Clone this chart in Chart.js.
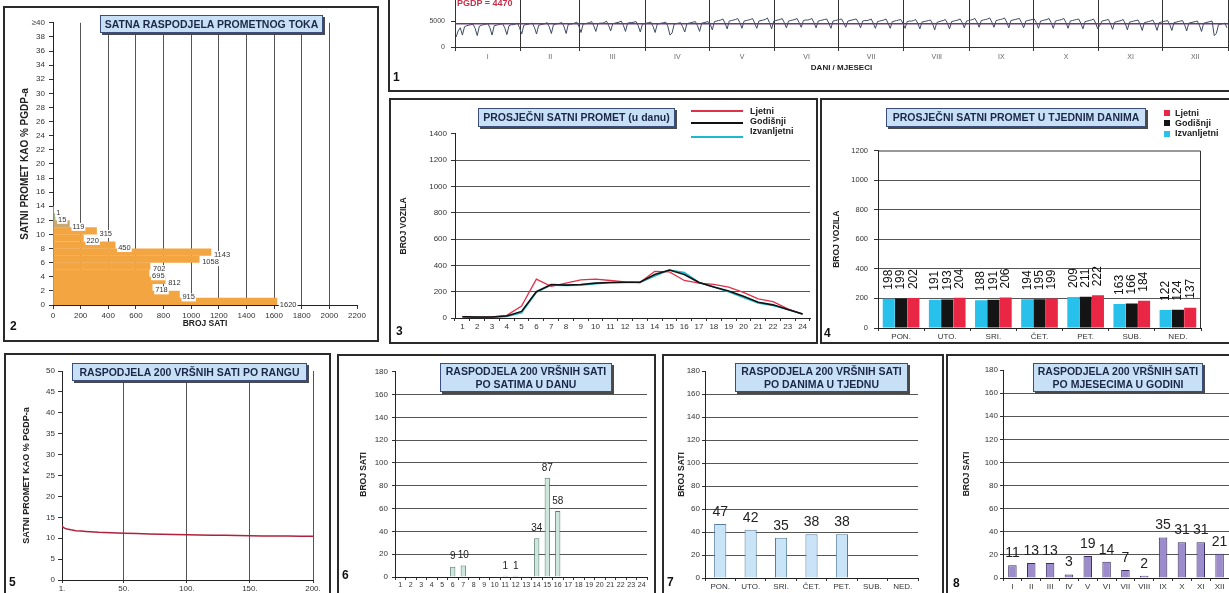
<!DOCTYPE html>
<html lang="hr">
<head>
<meta charset="UTF-8">
<title>Brojanje prometa</title>
<script src="https://cdn.jsdelivr.net/npm/chart.js"></script>
<style>
  body { margin:0; width:1229px; height:593px; overflow:hidden; background:#fff; position:relative;
         font-family:"Liberation Sans", Arial, sans-serif; }
  .box { position:absolute; border:2px solid #2a2a2a; box-sizing:border-box; background:#fff; }
  canvas { position:absolute; }
  .naslov { position:absolute; background:#c8e0f6; border:1.5px solid #3b4d7a; box-shadow:2px 2px 0 #4a4a4a;
            font-weight:bold; font-size:10.5px; color:#1b2747; text-align:center; display:flex;
            align-items:center; justify-content:center; line-height:1.2; box-sizing:border-box; white-space:nowrap; }
  .broj { position:absolute; font-weight:bold; font-size:12px; line-height:12px; color:#111; }
  .leg { position:absolute; font-size:9px; font-weight:bold; color:#222; line-height:10px; }
  .crta { position:absolute; height:2px; }
  .kv { position:absolute; width:6px; height:6px; }
</style>
</head>
<body>

<div class="box" style="left:388px;top:-10px;width:847px;height:102px"></div>
<div class="box" style="left:3px;top:6px;width:376px;height:336px"></div>
<div class="box" style="left:389px;top:98px;width:429px;height:246px"></div>
<div class="box" style="left:820px;top:98px;width:415px;height:246px"></div>
<div class="box" style="left:4px;top:353px;width:327px;height:250px"></div>
<div class="box" style="left:337px;top:354px;width:319px;height:250px"></div>
<div class="box" style="left:662px;top:354px;width:282px;height:250px"></div>
<div class="box" style="left:946px;top:354px;width:289px;height:250px"></div>

<script>
// 1 - dnevni promet kroz godinu (po mjesecima)
const sij = [1900,3100,3700,2300,3900,4100,4200,4300,4400,3600,2200,4000,4200,4300,4400,4500,3700,2300,4100,4200,4300,4400,4500,3700,2400,4100,4300,4300,4400,4600,3700];
const velj = [2500,4200,4300,4400,4500,4600,3800,2500,4200,4300,4400,4500,4700,3900,2600,4300,4400,4500,4600,4700,3900,2600,4400,4400,4500,4600,4800,4000];
const ozu = [2800,4400,4500,4600,4700,4900,4100,3000,4500,4600,4600,4700,5000,4200,3100,4500,4600,4700,4800,5000,4200,3000,4600,4700,4700,4800,4900,4100,2900,4400,4500];
const tra = [4600,4700,4800,4000,2800,4400,4500,4600,4700,4800,4000,2300,2700,4400,4500,4600,4700,3900,2900,4500,4600,4700,4800,4900,4100,3000,4600,4700,4800,4900];
const svi = [4400,3300,4900,5000,5100,5200,5400,4600,3500,5000,5100,5200,5300,5500,4700,3600,5000,5100,5200,5300,5500,4600,3600,5000,5100,5200,5300,5600,4700,3500,5000];
const lip = [5100,5200,5300,5500,4700,3700,5000,5100,5200,5300,5500,4700,3800,5100,5200,5200,5300,5500,4700,3700,5000,5100,5200,5300,5400,4600,3600,5000,5100,5200];
const srp = [5300,5400,4700,3800,5000,5100,5200,5300,5400,4700,3700,5000,5100,5100,5200,5400,4600,3600,4900,5000,5100,5200,5400,4600,3600,4900,5000,5100,5200,5300,4600];
const kol = [3600,4900,5000,5000,5100,5300,4600,3500,4800,4900,5000,5100,5200,4500,3300,4700,4900,5000,5100,5300,4600,3500,4900,5000,5100,5200,5400,4700,3700,5000,5100];
const ruj = [5200,5300,5500,4800,3800,5100,5200,5300,5400,5600,4800,3800,5100,5200,5300,5400,5600,4800,3700,5100,5200,5300,5400,5500,4700,3700,5000,5100,5200,5300];
const lis = [5400,4700,3600,5000,5100,5200,5300,5500,4700,3600,5000,5100,5200,5300,5500,4700,3600,5000,5100,5200,5300,5400,4600,3500,4900,5000,5100,5200,5400,4600,3500];
const stu = [4200,5000,5100,5200,5300,4500,3400,4800,4900,5000,5100,5300,4500,3300,4800,4900,5000,5100,5200,4400,3200,4700,4800,4900,5000,5200,4400,3200,4700,4800];
const pro = [4900,5000,5100,4300,3200,4700,4800,4900,5000,5100,4300,3100,4600,4700,4800,4900,5000,4200,3000,4600,4700,4800,4900,5000,2200,2600,4300,4400,4500,4600,3700];
const mjeseci = ['I','II','III','IV','V','VI','VII','VIII','IX','X','XI','XII'];
const PGDP = 4470;

// 2 - satna raspodjela prometnog toka
const razredi = [0,1,2,3,4,5,6,7,8,9,10,11,12,13];
const brojSati = [1620,915,718,812,695,702,1058,1143,450,220,315,119,15,1];

// 3 - prosjecni satni promet u danu
const sati = ['1','2','3','4','5','6','7','8','9','10','11','12','13','14','15','16','17','18','19','20','21','22','23','24'];
const ljetni = [10,5,8,20,90,295,240,265,290,295,285,275,270,355,350,285,265,255,235,195,145,125,70,30];
const godisnji = [10,8,8,15,50,200,255,250,255,265,270,272,272,330,365,330,270,235,205,165,120,100,65,30];
const izvanljetni = [10,5,5,12,40,195,250,248,250,260,268,270,270,320,365,345,270,235,200,155,115,95,65,30];

// 4 - prosjecni satni promet u tjednim danima
const dani = ['PON.','UTO.','SRI.','ČET.','PET.','SUB.','NED.'];
const danIzvan = [198,191,188,194,209,163,122];
const danGod = [199,193,191,195,211,166,124];
const danLjet = [202,204,206,199,222,184,137];

// 5 - 200 vrsnih sati po rangu
const rang = [1,2,3,5,8,12,16,20,30,40,50,60,70,80,90,100,110,120,130,140,150,160,170,180,190,200];
const postotak = [13.0,12.6,12.4,12.2,12.0,11.8,11.7,11.6,11.4,11.3,11.2,11.1,11.0,10.95,10.9,10.8,10.75,10.7,10.7,10.65,10.6,10.55,10.5,10.5,10.45,10.45];

// 6, 7, 8 - raspodjela 200 vrsnih sati
const vrsniPoSatu = [0,0,0,0,0,9,10,0,0,0,1,1,0,34,87,58,0,0,0,0,0,0,0,0];
const vrsniPoDanu = [47,42,35,38,38,0,0];
const vrsniPoMjesecu = [11,13,13,3,19,14,7,2,35,31,31,21];

Chart.defaults.font.family = '"Liberation Sans", Arial, sans-serif';
Chart.defaults.color = '#333';
Chart.defaults.plugins.legend.display = false;
Chart.defaults.plugins.tooltip.enabled = false;
const bezTocke = { useGrouping: false };

// oznake vrijednosti uz stupce
Chart.register({
  id: 'oznake',
  afterDatasetsDraw(chart, args, o) {
    if (!o || !o.nacin) return;
    const ctx = chart.ctx;
    ctx.save();
    ctx.font = o.font;
    chart.data.datasets.forEach((ds, di) => {
      chart.getDatasetMeta(di).data.forEach((el, i) => {
        const raw = ds.data[i];
        const v = typeof raw === 'object' ? raw.x : raw;
        if (!v) return;
        const t = String(v);
        ctx.fillStyle = o.boja;
        if (o.nacin === 'gore') {
          ctx.textAlign = 'center'; ctx.textBaseline = 'bottom';
          ctx.fillText(t, el.x, el.y - o.razmak);
        } else if (o.nacin === 'okomito') {
          ctx.save();
          ctx.translate(el.x, el.y - o.razmak);
          ctx.rotate(-Math.PI / 2);
          ctx.textAlign = 'left'; ctx.textBaseline = 'middle';
          ctx.fillText(t, 0, 0);
          ctx.restore();
        } else {
          ctx.textAlign = 'left'; ctx.textBaseline = 'middle';
          const w = ctx.measureText(t).width;
          ctx.fillStyle = '#fff';
          ctx.fillRect(el.x + o.razmak - 1, el.y + 3 - 4, w + 2, 8);
          ctx.fillStyle = o.boja;
          ctx.fillText(t, el.x + o.razmak, el.y + 3);
        }
      });
    });
    ctx.restore();
  }
});

// okvir (gornja i desna crta) podrucja grafa
Chart.register({
  id: 'okvir',
  afterDraw(chart, args, o) {
    if (!o || !o.boja) return;
    const a = chart.chartArea, ctx = chart.ctx;
    ctx.save();
    ctx.strokeStyle = o.boja; ctx.lineWidth = 1;
    ctx.beginPath();
    ctx.moveTo(a.left, a.top + 0.5); ctx.lineTo(a.right - 0.5, a.top + 0.5); ctx.lineTo(a.right - 0.5, a.bottom);
    ctx.stroke();
    ctx.restore();
  }
});

function napravi(plot, ax, config) {
  const c = document.createElement('canvas');
  const left = plot[0] - ax.yw, top = plot[1] - ax.pt;
  c.width = plot[2] - left + ax.pr;
  c.height = plot[3] - top + ax.xh;
  c.style.left = left + 'px';
  c.style.top = top + 'px';
  document.body.appendChild(c);
  config.options.responsive = false;
  config.options.animation = false;
  config.options.layout = { padding: { top: ax.pt, right: ax.pr, left: 0, bottom: 0 } };
  config.options.scales.x.afterFit = s => { s.height = ax.xh; };
  config.options.scales.y.afterFit = s => { s.width = ax.yw; };
  return new Chart(c, config);
}

function naslovOsi(t, vel) {
  return { display: true, text: t, color: '#222', font: { size: vel || 8.5, weight: 'bold' }, padding: { top: 4, bottom: 2 } };
}
function bezRubova(vr) {
  return c => (c.tick && vr.includes(c.tick.value)) ? 'transparent' : '#555';
}

// ---------- 1
const godina = [sij, velj, ozu, tra, svi, lip, srp, kol, ruj, lis, stu, pro];
const dnevno = [].concat(...godina);
const granice = [0];
godina.forEach(m => granice.push(granice[granice.length - 1] + m.length));
const sredine = granice.slice(0, 12).map((g, i) => g + godina[i].length / 2);
const sveOznake = granice.concat(sredine).sort((a, b) => a - b);

napravi([455, -37, 1228, 47], { yw: 65, xh: 30, pt: 4, pr: 4 }, {
  type: 'line',
  data: {
    datasets: [
      { data: [{ x: 0, y: PGDP }, { x: granice[12], y: PGDP }], borderColor: '#6b3a78', borderWidth: 1.5, pointRadius: 0 },
      { data: dnevno.map((v, i) => ({ x: i + 0.5, y: v })), borderColor: '#3b4a63', borderWidth: 1, pointRadius: 0 }
    ]
  },
  options: {
    scales: {
      x: {
        type: 'linear', min: 0, max: granice[12],
        afterBuildTicks: s => { s.ticks = sveOznake.map(v => ({ value: v })); },
        ticks: { autoSkip: false, maxRotation: 0, padding: 2, color: '#666', font: { size: 7 },
                 callback: v => { const k = sredine.indexOf(v); return k >= 0 ? mjeseci[k] : ''; } },
        grid: { color: c => granice.includes(c.tick.value) ? '#333' : 'transparent', tickLength: 4 },
        border: { color: '#333' },
        title: { display: true, text: 'DANI / MJESECI', color: '#222', font: { size: 8, weight: 'bold' }, padding: { top: 3 } }
      },
      y: {
        min: 0, max: 15000,
        ticks: { stepSize: 5000, padding: 6, color: '#444', font: { size: 7 }, format: bezTocke },
        grid: { drawOnChartArea: false, tickLength: 4, color: '#333' },
        border: { color: '#333' }
      }
    }
  }
});

// ---------- 2
const bojeRazreda = razredi.map(r => r < 11 ? '#f3a541' : (r === 11 ? '#c9a873' : '#9db07e'));
napravi([53, 22, 357, 305], { yw: 38, xh: 28, pt: 8, pr: 12 }, {
  type: 'bar',
  data: {
    datasets: [{ data: razredi.map((r, i) => ({ x: brojSati[i], y: r + 0.5 })), backgroundColor: bojeRazreda,
                 barThickness: 6.6 }]
  },
  options: {
    indexAxis: 'y',
    plugins: { oznake: { nacin: 'desno', font: '7.5px "Liberation Sans", Arial', boja: '#333', razmak: 3 } },
    scales: {
      x: {
        type: 'linear', min: 0, max: 2200,
        ticks: { stepSize: 200, maxRotation: 0, autoSkip: false, padding: 2, font: { size: 8 }, format: bezTocke },
        grid: { color: bezRubova([0, 2200]), tickColor: '#333', tickLength: 4 },
        border: { color: '#222' },
        title: { display: true, text: 'BROJ SATI', color: '#222', font: { size: 8.5, weight: 'bold' }, padding: { top: 1 } }
      },
      y: {
        type: 'linear', min: 0, max: 40, offset: false,
        ticks: { stepSize: 2, autoSkip: false, padding: 4, font: { size: 8 }, callback: v => v === 40 ? '≥40' : v },
        grid: { drawOnChartArea: false, offset: false, tickLength: 4, color: '#333' },
        border: { color: '#222' },
        title: naslovOsi('SATNI PROMET KAO % PGDP-a', 10)
      }
    }
  }
});

// ---------- 3
napravi([455, 133, 810, 318], { yw: 60, xh: 25, pt: 8, pr: 5 }, {
  type: 'line',
  data: {
    labels: sati,
    datasets: [
      { data: godisnji, borderColor: '#111', borderWidth: 1.6, pointRadius: 0 },
      { data: ljetni, borderColor: '#e0304a', borderWidth: 1.3, pointRadius: 0 },
      { data: izvanljetni, borderColor: '#1cb9cf', borderWidth: 1.6, pointRadius: 0 }
    ]
  },
  options: {
    scales: {
      x: {
        offset: true,
        ticks: { autoSkip: false, maxRotation: 0, padding: 1, font: { size: 8 } },
        grid: { offset: true, drawOnChartArea: false, tickLength: 3, color: '#333' },
        border: { color: '#222' }
      },
      y: {
        min: 0, max: 1400,
        ticks: { stepSize: 200, padding: 4, font: { size: 8 }, format: bezTocke },
        grid: { color: bezRubova([0, 1400]), tickColor: '#333', tickLength: 4 },
        border: { color: '#222' },
        title: naslovOsi('BROJ VOZILA')
      }
    }
  }
});

// ---------- 4
napravi([878, 148, 1201, 328], { yw: 50, xh: 18, pt: 8, pr: 5 }, {
  type: 'bar',
  data: {
    labels: dani,
    datasets: [
      { data: danIzvan, backgroundColor: '#27c1ec' },
      { data: danGod, backgroundColor: '#141414' },
      { data: danLjet, backgroundColor: '#ea2645' }
    ]
  },
  options: {
    datasets: { bar: { categoryPercentage: 0.8, barPercentage: 0.98 } },
    plugins: {
      oznake: { nacin: 'okomito', font: '12px "Liberation Sans", Arial', boja: '#111', razmak: 9 },
      okvir: { boja: '#333' }
    },
    scales: {
      x: {
        ticks: { maxRotation: 0, padding: 1, font: { size: 8 } },
        grid: { offset: true, drawOnChartArea: false, tickLength: 3, color: '#333' },
        border: { color: '#222' }
      },
      y: {
        min: 0, max: 1200,
        ticks: { stepSize: 200, padding: 6, font: { size: 7.5 }, format: bezTocke },
        grid: { color: bezRubova([0, 1200]), tickColor: '#333', tickLength: 4 },
        border: { color: '#222' },
        title: naslovOsi('BROJ VOZILA')
      }
    }
  }
});

// ---------- 5
napravi([62, 371, 313, 580], { yw: 45, xh: 14, pt: 8, pr: 12 }, {
  type: 'line',
  data: { datasets: [{ data: rang.map((r, i) => ({ x: r, y: postotak[i] })), borderColor: '#b0203c', borderWidth: 1.5, pointRadius: 0 }] },
  options: {
    scales: {
      x: {
        type: 'linear', min: 1, max: 200,
        afterBuildTicks: s => { s.ticks = [1, 50, 100, 150, 200].map(v => ({ value: v })); },
        ticks: { autoSkip: false, maxRotation: 0, padding: 1, font: { size: 8 }, callback: v => v + '.' },
        grid: { color: bezRubova([1]), tickColor: '#333', tickLength: 3 },
        border: { color: '#222' }
      },
      y: {
        min: 0, max: 50,
        ticks: { stepSize: 5, padding: 3, font: { size: 8 } },
        grid: { drawOnChartArea: false, tickLength: 4, color: '#333' },
        border: { color: '#222' },
        title: naslovOsi('SATNI PROMET KAO % PGDP-a', 9)
      }
    }
  }
});

// ---------- 6, 7, 8
function vrsni(plot, ax, labels, data, fill, rub, sirina, fontX, fontV, razmak) {
  napravi(plot, ax, {
    type: 'bar',
    data: { labels: labels, datasets: [{ data: data, backgroundColor: fill, borderColor: rub, borderWidth: 1,
                                          categoryPercentage: sirina, barPercentage: 1 }] },
    options: {
      plugins: { oznake: { nacin: 'gore', font: fontV + 'px "Liberation Sans", Arial', boja: '#222', razmak: razmak } },
      scales: {
        x: {
          ticks: { autoSkip: false, maxRotation: 0, padding: 1, font: { size: fontX } },
          grid: { offset: true, drawOnChartArea: false, tickLength: 3, color: '#333' },
          border: { color: '#222' }
        },
        y: {
          min: 0, max: 180,
          ticks: { stepSize: 20, padding: ax.tp, font: { size: 8 } },
          grid: { color: bezRubova([0, 180]), tickColor: '#333', tickLength: 3 },
          border: { color: '#222' },
          title: naslovOsi('BROJ SATI')
        }
      }
    }
  });
}
vrsni([395, 371, 647, 577], { yw: 40, xh: 14, pt: 8, pr: 5, tp: 4 }, sati, vrsniPoSatu, '#cde7dc', '#5a7d70', 0.5, 7, 10, 5);
vrsni([705, 371, 918, 578], { yw: 32, xh: 16, pt: 8, pr: 5, tp: 2 }, dani, vrsniPoDanu, '#c8e4f6', '#557d9c', 0.4, 8, 14, 5);
vrsni([1003, 370, 1229, 578], { yw: 45, xh: 16, pt: 8, pr: 2, tp: 2 }, mjeseci, vrsniPoMjesecu, '#9d8ccb', '#3d2f66', 0.45, 8, 14, 5);
</script>

<div style="position:absolute;left:457px;top:-2px;font-size:9px;font-weight:bold;color:#c8304a">PGDP = 4470</div>

<div class="naslov" style="left:100px;top:15px;width:223px;height:18px">SATNA RASPODJELA PROMETNOG TOKA</div>
<div class="naslov" style="left:478px;top:108px;width:197px;height:19px">PROSJEČNI SATNI PROMET (u danu)</div>
<div class="naslov" style="left:886px;top:108px;width:260px;height:19px">PROSJEČNI SATNI PROMET U TJEDNIM DANIMA</div>
<div class="naslov" style="left:72px;top:363px;width:235px;height:18px">RASPODJELA 200 VRŠNIH SATI PO RANGU</div>
<div class="naslov" style="left:440px;top:363px;width:172px;height:29px">RASPODJELA 200 VRŠNIH SATI<br>PO SATIMA U DANU</div>
<div class="naslov" style="left:735px;top:363px;width:173px;height:29px">RASPODJELA 200 VRŠNIH SATI<br>PO DANIMA U TJEDNU</div>
<div class="naslov" style="left:1033px;top:363px;width:170px;height:29px">RASPODJELA 200 VRŠNIH SATI<br>PO MJESECIMA U GODINI</div>

<div class="crta" style="left:691px;top:110px;width:52px;background:#e0304a"></div>
<div class="crta" style="left:691px;top:122px;width:52px;background:#111"></div>
<div class="crta" style="left:691px;top:136px;width:52px;background:#1cb9cf"></div>
<div class="leg" style="left:750px;top:106px">Ljetni</div>
<div class="leg" style="left:750px;top:116px">Godišnji</div>
<div class="leg" style="left:750px;top:126px">Izvanljetni</div>

<div class="kv" style="left:1164px;top:110px;background:#ea2645"></div>
<div class="kv" style="left:1164px;top:120px;background:#141414"></div>
<div class="kv" style="left:1164px;top:131px;background:#27c1ec"></div>
<div class="leg" style="left:1175px;top:108px">Ljetni</div>
<div class="leg" style="left:1175px;top:118px">Godišnji</div>
<div class="leg" style="left:1175px;top:128px">Izvanljetni</div>

<div class="broj" style="left:393px;top:71px">1</div>
<div class="broj" style="left:10px;top:320px">2</div>
<div class="broj" style="left:396px;top:325px">3</div>
<div class="broj" style="left:824px;top:327px">4</div>
<div class="broj" style="left:9px;top:576px">5</div>
<div class="broj" style="left:342px;top:569px">6</div>
<div class="broj" style="left:667px;top:576px">7</div>
<div class="broj" style="left:953px;top:577px">8</div>

</body>
</html>
